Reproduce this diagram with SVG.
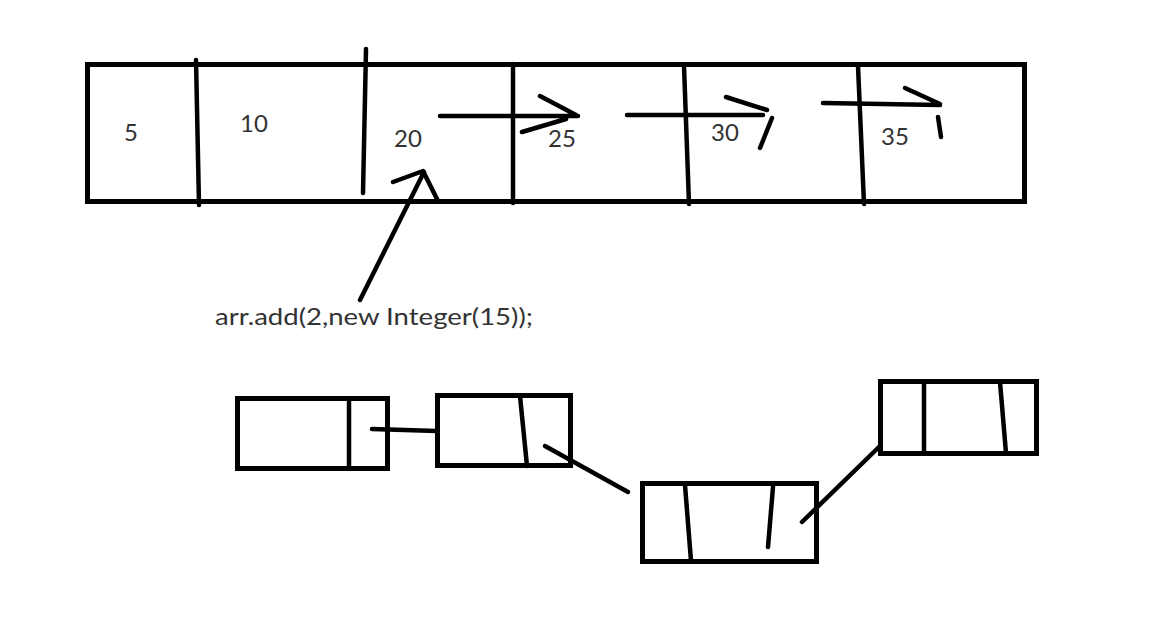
<svg xmlns="http://www.w3.org/2000/svg" width="1152" height="639" viewBox="0 0 1152 639">
<style>
.box{fill:none;stroke:#000;stroke-width:5}
.ln{fill:none;stroke:#000;stroke-width:4.5;stroke-linecap:round;stroke-linejoin:round}
.t{font-family:Lato,"Liberation Sans",sans-serif;font-size:24px;fill:#333}
</style>
<rect width="1152" height="639" fill="#fff"/>
<g id="array">
<rect class="box" x="87.5" y="64.5" width="937" height="137"/>
<path class="ln" d="M196 60 L199 205"/>
<path class="ln" d="M366 49 L363 193"/>
<path class="ln" d="M513 64 L513 203"/>
<path class="ln" d="M684 66 L689 204"/>
<path class="ln" d="M858 66 L864 204"/>
<text class="t" x="124" y="141">5</text>
<text class="t" x="240" y="132">10</text>
<text class="t" x="394" y="147">20</text>
<text class="t" x="548" y="147">25</text>
<text class="t" x="711" y="141">30</text>
<text class="t" x="881" y="145">35</text>
</g>
<g id="connectors">
<path class="ln" d="M440 116 L578 116 M540 96 L576 115 M522 132 L566 119"/>
<path class="ln" d="M627 115 L763 115 M726 97 L767 110 M760 148 L772 118"/>
<path class="ln" d="M823 103 L940 105 M905 88 L940 104 M938 117 L941 137"/>
<path class="ln" d="M360 300 L424 172 M393 182 L423 171 L437 199"/>
<path class="ln" d="M372 429 L437 431"/>
<path class="ln" d="M545 446 L628 492"/>
<path class="ln" d="M802 522 L879 447"/>
</g>
<g id="caption">
<text class="t" x="215" y="325" textLength="318" lengthAdjust="spacingAndGlyphs">arr.add(2,new Integer(15));</text>
</g>
<g id="nodeA">
<rect class="box" x="237.5" y="398.5" width="150" height="70"/>
<path class="ln" d="M349 398 L349 469" style="stroke-linecap:butt"/>
</g>
<g id="nodeB">
<rect class="box" x="437.5" y="395.5" width="133" height="70"/>
<path class="ln" d="M520 396 L527 466"/>
</g>
<g id="nodeC">
<rect class="box" x="642.5" y="483.5" width="174" height="78"/>
<path class="ln" d="M685 485 L691 561"/>
<path class="ln" d="M773 487 L768 547"/>
</g>
<g id="nodeD">
<rect class="box" x="880.5" y="381.5" width="156" height="72"/>
<path class="ln" d="M924 382 L924 453" style="stroke-linecap:butt"/>
<path class="ln" d="M1000 382 L1006 453"/>
</g>
</svg>
